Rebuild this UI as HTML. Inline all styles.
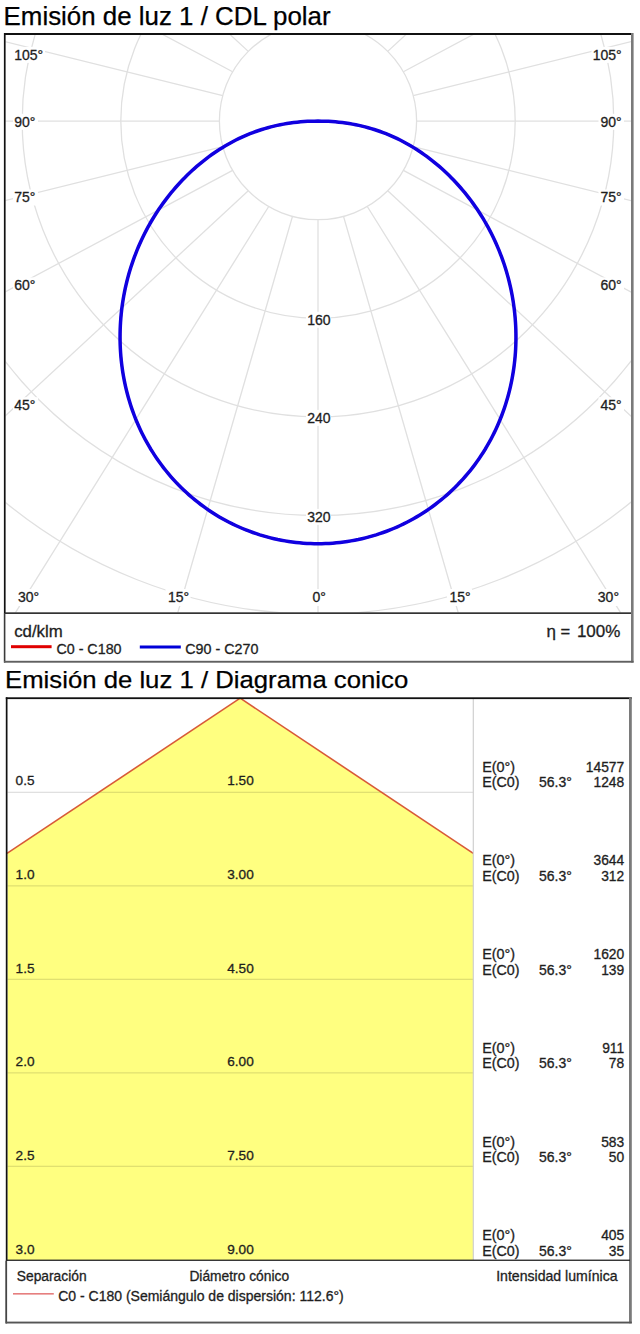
<!DOCTYPE html>
<html><head><meta charset="utf-8"><style>
html,body{margin:0;padding:0;background:#fff;width:640px;height:1334px;overflow:hidden}
svg{position:absolute;left:0;top:0;display:block}
</style></head><body>
<svg width="640" height="1334" viewBox="0 0 640 1334">
<clipPath id="c1"><rect x="5.5" y="35" width="625.5" height="577.5"/></clipPath>
<g clip-path="url(#c1)">
<circle cx="318.0" cy="121.1" r="98.60" fill="none" stroke="#e0e0e0" stroke-width="1.3"/>
<circle cx="318.0" cy="121.1" r="197.20" fill="none" stroke="#e0e0e0" stroke-width="1.3"/>
<circle cx="318.0" cy="121.1" r="295.80" fill="none" stroke="#e0e0e0" stroke-width="1.3"/>
<circle cx="318.0" cy="121.1" r="394.40" fill="none" stroke="#e0e0e0" stroke-width="1.3"/>
<circle cx="318.0" cy="121.1" r="493.00" fill="none" stroke="#e0e0e0" stroke-width="1.3"/>
<circle cx="318.0" cy="121.1" r="591.60" fill="none" stroke="#e0e0e0" stroke-width="1.3"/>
<circle cx="318.0" cy="121.1" r="690.20" fill="none" stroke="#e0e0e0" stroke-width="1.3"/>
<line x1="318.00" y1="219.70" x2="318.00" y2="1119.70" stroke="#e0e0e0" stroke-width="1.3"/>
<line x1="343.52" y1="216.34" x2="593.70" y2="1080.87" stroke="#e0e0e0" stroke-width="1.3"/>
<line x1="367.30" y1="206.49" x2="843.50" y2="970.19" stroke="#e0e0e0" stroke-width="1.3"/>
<line x1="387.72" y1="190.82" x2="1048.11" y2="802.29" stroke="#e0e0e0" stroke-width="1.3"/>
<line x1="403.39" y1="170.40" x2="1197.10" y2="594.70" stroke="#e0e0e0" stroke-width="1.3"/>
<line x1="413.24" y1="146.62" x2="1286.76" y2="363.34" stroke="#e0e0e0" stroke-width="1.3"/>
<line x1="416.60" y1="121.10" x2="1316.60" y2="121.10" stroke="#e0e0e0" stroke-width="1.3"/>
<line x1="413.24" y1="95.58" x2="1286.76" y2="-121.14" stroke="#e0e0e0" stroke-width="1.3"/>
<line x1="403.39" y1="71.80" x2="1197.10" y2="-352.50" stroke="#e0e0e0" stroke-width="1.3"/>
<line x1="387.72" y1="51.38" x2="1048.11" y2="-560.09" stroke="#e0e0e0" stroke-width="1.3"/>
<line x1="367.30" y1="35.71" x2="843.50" y2="-727.99" stroke="#e0e0e0" stroke-width="1.3"/>
<line x1="343.52" y1="25.86" x2="593.70" y2="-838.67" stroke="#e0e0e0" stroke-width="1.3"/>
<line x1="318.00" y1="22.50" x2="318.00" y2="-877.50" stroke="#e0e0e0" stroke-width="1.3"/>
<line x1="292.48" y1="25.86" x2="42.30" y2="-838.67" stroke="#e0e0e0" stroke-width="1.3"/>
<line x1="268.70" y1="35.71" x2="-207.50" y2="-727.99" stroke="#e0e0e0" stroke-width="1.3"/>
<line x1="248.28" y1="51.38" x2="-412.11" y2="-560.09" stroke="#e0e0e0" stroke-width="1.3"/>
<line x1="232.61" y1="71.80" x2="-561.10" y2="-352.50" stroke="#e0e0e0" stroke-width="1.3"/>
<line x1="222.76" y1="95.58" x2="-650.76" y2="-121.14" stroke="#e0e0e0" stroke-width="1.3"/>
<line x1="219.40" y1="121.10" x2="-680.60" y2="121.10" stroke="#e0e0e0" stroke-width="1.3"/>
<line x1="222.76" y1="146.62" x2="-650.76" y2="363.34" stroke="#e0e0e0" stroke-width="1.3"/>
<line x1="232.61" y1="170.40" x2="-561.10" y2="594.70" stroke="#e0e0e0" stroke-width="1.3"/>
<line x1="248.28" y1="190.82" x2="-412.11" y2="802.29" stroke="#e0e0e0" stroke-width="1.3"/>
<line x1="268.70" y1="206.49" x2="-207.50" y2="970.19" stroke="#e0e0e0" stroke-width="1.3"/>
<line x1="292.48" y1="216.34" x2="42.30" y2="1080.87" stroke="#e0e0e0" stroke-width="1.3"/>
</g>
<path d="M318.00,121.10 L314.52,121.13 L311.04,121.22 L307.56,121.37 L304.09,121.59 L300.62,121.86 L297.15,122.19 L293.69,122.59 L290.24,123.04 L286.80,123.56 L283.48,124.12 L280.27,124.73 L277.10,125.40 L273.96,126.12 L270.86,126.89 L267.79,127.71 L264.76,128.58 L261.75,129.51 L258.78,130.48 L255.83,131.50 L252.91,132.58 L250.01,133.70 L247.15,134.87 L244.30,136.09 L241.48,137.36 L238.68,138.68 L235.91,140.05 L233.15,141.47 L230.42,142.94 L227.71,144.45 L225.02,146.01 L222.35,147.63 L219.70,149.29 L217.07,151.00 L214.45,152.76 L211.86,154.56 L209.29,156.42 L206.74,158.33 L204.21,160.28 L201.70,162.28 L199.21,164.34 L196.74,166.44 L194.30,168.58 L191.88,170.78 L189.48,173.03 L187.10,175.32 L184.75,177.66 L182.43,180.05 L180.13,182.49 L177.85,184.97 L175.61,187.50 L173.40,190.07 L171.21,192.69 L169.06,195.36 L166.94,198.07 L164.86,200.82 L162.81,203.62 L160.79,206.46 L158.82,209.34 L156.88,212.26 L154.98,215.22 L153.13,218.22 L151.32,221.25 L149.55,224.33 L147.83,227.44 L146.15,230.58 L144.52,233.76 L142.93,236.98 L141.39,240.23 L139.90,243.51 L138.46,246.82 L137.06,250.16 L135.72,253.53 L134.43,256.94 L133.19,260.37 L132.00,263.83 L130.86,267.31 L129.78,270.82 L128.75,274.35 L127.77,277.91 L126.85,281.49 L125.99,285.09 L125.18,288.71 L124.43,292.35 L123.74,296.01 L123.10,299.69 L122.53,303.38 L122.01,307.09 L121.55,310.81 L121.15,314.54 L120.82,318.28 L120.54,322.04 L120.33,325.80 L120.17,329.57 L120.08,333.34 L120.05,337.12 L120.08,340.91 L120.18,344.69 L120.34,348.48 L120.56,352.27 L120.85,356.05 L121.20,359.84 L121.62,363.61 L122.10,367.39 L122.64,371.15 L123.25,374.91 L123.92,378.65 L124.66,382.39 L125.46,386.11 L126.33,389.81 L127.26,393.51 L128.26,397.18 L129.32,400.83 L130.44,404.47 L131.63,408.08 L132.88,411.67 L134.20,415.24 L135.58,418.78 L137.03,422.29 L138.53,425.77 L140.10,429.23 L141.74,432.65 L143.43,436.03 L145.18,439.39 L147.00,442.70 L148.88,445.98 L150.81,449.23 L152.81,452.43 L154.86,455.59 L156.97,458.72 L159.13,461.80 L161.35,464.83 L163.63,467.82 L165.96,470.77 L168.34,473.67 L170.78,476.52 L173.27,479.33 L175.81,482.08 L178.39,484.79 L181.03,487.44 L183.72,490.04 L186.45,492.59 L189.23,495.08 L192.05,497.52 L194.92,499.90 L197.83,502.23 L200.78,504.50 L203.78,506.71 L206.81,508.87 L209.88,510.96 L212.99,513.00 L216.14,514.97 L219.32,516.88 L222.54,518.73 L225.79,520.52 L229.07,522.24 L232.38,523.91 L235.72,525.50 L239.09,527.03 L242.49,528.50 L245.92,529.90 L249.37,531.24 L252.84,532.51 L256.33,533.71 L259.85,534.85 L263.39,535.91 L266.94,536.91 L270.52,537.85 L274.11,538.71 L277.71,539.51 L281.33,540.23 L284.96,540.89 L288.60,541.48 L292.26,542.00 L295.92,542.45 L299.59,542.83 L303.26,543.14 L306.94,543.39 L310.63,543.56 L314.31,543.66 L318.00,543.70 L321.69,543.66 L325.37,543.56 L329.06,543.39 L332.74,543.14 L336.41,542.83 L340.08,542.45 L343.74,542.00 L347.40,541.48 L351.04,540.89 L354.67,540.23 L358.29,539.51 L361.89,538.71 L365.48,537.85 L369.06,536.91 L372.61,535.91 L376.15,534.85 L379.67,533.71 L383.16,532.51 L386.63,531.24 L390.08,529.90 L393.51,528.50 L396.91,527.03 L400.28,525.50 L403.62,523.91 L406.93,522.24 L410.21,520.52 L413.46,518.73 L416.68,516.88 L419.86,514.97 L423.01,513.00 L426.12,510.96 L429.19,508.87 L432.22,506.71 L435.22,504.50 L438.17,502.23 L441.08,499.90 L443.95,497.52 L446.77,495.08 L449.55,492.59 L452.28,490.04 L454.97,487.44 L457.61,484.79 L460.19,482.08 L462.73,479.33 L465.22,476.52 L467.66,473.67 L470.04,470.77 L472.37,467.82 L474.65,464.83 L476.87,461.80 L479.03,458.72 L481.14,455.59 L483.19,452.43 L485.19,449.23 L487.12,445.98 L489.00,442.70 L490.82,439.39 L492.57,436.03 L494.26,432.65 L495.90,429.23 L497.47,425.77 L498.97,422.29 L500.42,418.78 L501.80,415.24 L503.12,411.67 L504.37,408.08 L505.56,404.47 L506.68,400.83 L507.74,397.18 L508.74,393.51 L509.67,389.81 L510.54,386.11 L511.34,382.39 L512.08,378.65 L512.75,374.91 L513.36,371.15 L513.90,367.39 L514.38,363.61 L514.80,359.84 L515.15,356.05 L515.44,352.27 L515.66,348.48 L515.82,344.69 L515.92,340.91 L515.95,337.12 L515.92,333.34 L515.83,329.57 L515.67,325.80 L515.46,322.04 L515.18,318.28 L514.85,314.54 L514.45,310.81 L513.99,307.09 L513.47,303.38 L512.90,299.69 L512.26,296.01 L511.57,292.35 L510.82,288.71 L510.01,285.09 L509.15,281.49 L508.23,277.91 L507.25,274.35 L506.22,270.82 L505.14,267.31 L504.00,263.83 L502.81,260.37 L501.57,256.94 L500.28,253.53 L498.94,250.16 L497.54,246.82 L496.10,243.51 L494.61,240.23 L493.07,236.98 L491.48,233.76 L489.85,230.58 L488.17,227.44 L486.45,224.33 L484.68,221.25 L482.87,218.22 L481.02,215.22 L479.12,212.26 L477.18,209.34 L475.21,206.46 L473.19,203.62 L471.14,200.82 L469.06,198.07 L466.94,195.36 L464.79,192.69 L462.60,190.07 L460.39,187.50 L458.15,184.97 L455.87,182.49 L453.57,180.05 L451.25,177.66 L448.90,175.32 L446.52,173.03 L444.12,170.78 L441.70,168.58 L439.26,166.44 L436.79,164.34 L434.30,162.28 L431.79,160.28 L429.26,158.33 L426.71,156.42 L424.14,154.56 L421.55,152.76 L418.93,151.00 L416.30,149.29 L413.65,147.63 L410.98,146.01 L408.29,144.45 L405.58,142.94 L402.85,141.47 L400.09,140.05 L397.32,138.68 L394.52,137.36 L391.70,136.09 L388.85,134.87 L385.99,133.70 L383.09,132.58 L380.17,131.50 L377.22,130.48 L374.25,129.51 L371.24,128.58 L368.21,127.71 L365.14,126.89 L362.04,126.12 L358.90,125.40 L355.73,124.73 L352.52,124.12 L349.20,123.56 L345.76,123.04 L342.31,122.59 L338.85,122.19 L335.38,121.86 L331.91,121.59 L328.44,121.37 L324.96,121.22 L321.48,121.13 L318.00,121.10" fill="none" stroke="#e00000" stroke-width="2.2"/>
<path d="M318.00,121.10 L314.52,121.13 L311.04,121.22 L307.56,121.37 L304.09,121.59 L300.62,121.86 L297.15,122.19 L293.69,122.59 L290.24,123.04 L286.80,123.56 L283.48,124.12 L280.27,124.73 L277.10,125.40 L273.96,126.12 L270.86,126.89 L267.79,127.71 L264.76,128.58 L261.75,129.51 L258.78,130.48 L255.83,131.50 L252.91,132.58 L250.01,133.70 L247.15,134.87 L244.30,136.09 L241.48,137.36 L238.68,138.68 L235.91,140.05 L233.15,141.47 L230.42,142.94 L227.71,144.45 L225.02,146.01 L222.35,147.63 L219.70,149.29 L217.07,151.00 L214.45,152.76 L211.86,154.56 L209.29,156.42 L206.74,158.33 L204.21,160.28 L201.70,162.28 L199.21,164.34 L196.74,166.44 L194.30,168.58 L191.88,170.78 L189.48,173.03 L187.10,175.32 L184.75,177.66 L182.43,180.05 L180.13,182.49 L177.85,184.97 L175.61,187.50 L173.40,190.07 L171.21,192.69 L169.06,195.36 L166.94,198.07 L164.86,200.82 L162.81,203.62 L160.79,206.46 L158.82,209.34 L156.88,212.26 L154.98,215.22 L153.13,218.22 L151.32,221.25 L149.55,224.33 L147.83,227.44 L146.15,230.58 L144.52,233.76 L142.93,236.98 L141.39,240.23 L139.90,243.51 L138.46,246.82 L137.06,250.16 L135.72,253.53 L134.43,256.94 L133.19,260.37 L132.00,263.83 L130.86,267.31 L129.78,270.82 L128.75,274.35 L127.77,277.91 L126.85,281.49 L125.99,285.09 L125.18,288.71 L124.43,292.35 L123.74,296.01 L123.10,299.69 L122.53,303.38 L122.01,307.09 L121.55,310.81 L121.15,314.54 L120.82,318.28 L120.54,322.04 L120.33,325.80 L120.17,329.57 L120.08,333.34 L120.05,337.12 L120.08,340.91 L120.18,344.69 L120.34,348.48 L120.56,352.27 L120.85,356.05 L121.20,359.84 L121.62,363.61 L122.10,367.39 L122.64,371.15 L123.25,374.91 L123.92,378.65 L124.66,382.39 L125.46,386.11 L126.33,389.81 L127.26,393.51 L128.26,397.18 L129.32,400.83 L130.44,404.47 L131.63,408.08 L132.88,411.67 L134.20,415.24 L135.58,418.78 L137.03,422.29 L138.53,425.77 L140.10,429.23 L141.74,432.65 L143.43,436.03 L145.18,439.39 L147.00,442.70 L148.88,445.98 L150.81,449.23 L152.81,452.43 L154.86,455.59 L156.97,458.72 L159.13,461.80 L161.35,464.83 L163.63,467.82 L165.96,470.77 L168.34,473.67 L170.78,476.52 L173.27,479.33 L175.81,482.08 L178.39,484.79 L181.03,487.44 L183.72,490.04 L186.45,492.59 L189.23,495.08 L192.05,497.52 L194.92,499.90 L197.83,502.23 L200.78,504.50 L203.78,506.71 L206.81,508.87 L209.88,510.96 L212.99,513.00 L216.14,514.97 L219.32,516.88 L222.54,518.73 L225.79,520.52 L229.07,522.24 L232.38,523.91 L235.72,525.50 L239.09,527.03 L242.49,528.50 L245.92,529.90 L249.37,531.24 L252.84,532.51 L256.33,533.71 L259.85,534.85 L263.39,535.91 L266.94,536.91 L270.52,537.85 L274.11,538.71 L277.71,539.51 L281.33,540.23 L284.96,540.89 L288.60,541.48 L292.26,542.00 L295.92,542.45 L299.59,542.83 L303.26,543.14 L306.94,543.39 L310.63,543.56 L314.31,543.66 L318.00,543.70 L321.69,543.66 L325.37,543.56 L329.06,543.39 L332.74,543.14 L336.41,542.83 L340.08,542.45 L343.74,542.00 L347.40,541.48 L351.04,540.89 L354.67,540.23 L358.29,539.51 L361.89,538.71 L365.48,537.85 L369.06,536.91 L372.61,535.91 L376.15,534.85 L379.67,533.71 L383.16,532.51 L386.63,531.24 L390.08,529.90 L393.51,528.50 L396.91,527.03 L400.28,525.50 L403.62,523.91 L406.93,522.24 L410.21,520.52 L413.46,518.73 L416.68,516.88 L419.86,514.97 L423.01,513.00 L426.12,510.96 L429.19,508.87 L432.22,506.71 L435.22,504.50 L438.17,502.23 L441.08,499.90 L443.95,497.52 L446.77,495.08 L449.55,492.59 L452.28,490.04 L454.97,487.44 L457.61,484.79 L460.19,482.08 L462.73,479.33 L465.22,476.52 L467.66,473.67 L470.04,470.77 L472.37,467.82 L474.65,464.83 L476.87,461.80 L479.03,458.72 L481.14,455.59 L483.19,452.43 L485.19,449.23 L487.12,445.98 L489.00,442.70 L490.82,439.39 L492.57,436.03 L494.26,432.65 L495.90,429.23 L497.47,425.77 L498.97,422.29 L500.42,418.78 L501.80,415.24 L503.12,411.67 L504.37,408.08 L505.56,404.47 L506.68,400.83 L507.74,397.18 L508.74,393.51 L509.67,389.81 L510.54,386.11 L511.34,382.39 L512.08,378.65 L512.75,374.91 L513.36,371.15 L513.90,367.39 L514.38,363.61 L514.80,359.84 L515.15,356.05 L515.44,352.27 L515.66,348.48 L515.82,344.69 L515.92,340.91 L515.95,337.12 L515.92,333.34 L515.83,329.57 L515.67,325.80 L515.46,322.04 L515.18,318.28 L514.85,314.54 L514.45,310.81 L513.99,307.09 L513.47,303.38 L512.90,299.69 L512.26,296.01 L511.57,292.35 L510.82,288.71 L510.01,285.09 L509.15,281.49 L508.23,277.91 L507.25,274.35 L506.22,270.82 L505.14,267.31 L504.00,263.83 L502.81,260.37 L501.57,256.94 L500.28,253.53 L498.94,250.16 L497.54,246.82 L496.10,243.51 L494.61,240.23 L493.07,236.98 L491.48,233.76 L489.85,230.58 L488.17,227.44 L486.45,224.33 L484.68,221.25 L482.87,218.22 L481.02,215.22 L479.12,212.26 L477.18,209.34 L475.21,206.46 L473.19,203.62 L471.14,200.82 L469.06,198.07 L466.94,195.36 L464.79,192.69 L462.60,190.07 L460.39,187.50 L458.15,184.97 L455.87,182.49 L453.57,180.05 L451.25,177.66 L448.90,175.32 L446.52,173.03 L444.12,170.78 L441.70,168.58 L439.26,166.44 L436.79,164.34 L434.30,162.28 L431.79,160.28 L429.26,158.33 L426.71,156.42 L424.14,154.56 L421.55,152.76 L418.93,151.00 L416.30,149.29 L413.65,147.63 L410.98,146.01 L408.29,144.45 L405.58,142.94 L402.85,141.47 L400.09,140.05 L397.32,138.68 L394.52,137.36 L391.70,136.09 L388.85,134.87 L385.99,133.70 L383.09,132.58 L380.17,131.50 L377.22,130.48 L374.25,129.51 L371.24,128.58 L368.21,127.71 L365.14,126.89 L362.04,126.12 L358.90,125.40 L355.73,124.73 L352.52,124.12 L349.20,123.56 L345.76,123.04 L342.31,122.59 L338.85,122.19 L335.38,121.86 L331.91,121.59 L328.44,121.37 L324.96,121.22 L321.48,121.13 L318.00,121.10" fill="none" stroke="#1000e0" stroke-width="3.5"/>
<rect x="13" y="46.9" width="32" height="16.0" fill="#fff"/>
<rect x="591.5" y="46.9" width="32.5" height="16.0" fill="#fff"/>
<rect x="13" y="113.8" width="25" height="16.000000000000014" fill="#fff"/>
<rect x="598.5" y="113.8" width="25.5" height="16.000000000000014" fill="#fff"/>
<rect x="13" y="189.5" width="25" height="16.0" fill="#fff"/>
<rect x="598.5" y="189.5" width="25.5" height="16.0" fill="#fff"/>
<rect x="13" y="277.4" width="25" height="16.0" fill="#fff"/>
<rect x="598.5" y="277.4" width="25.5" height="16.0" fill="#fff"/>
<rect x="13" y="397.2" width="25" height="16.0" fill="#fff"/>
<rect x="598.5" y="397.2" width="25.5" height="16.0" fill="#fff"/>
<text x="14.2" y="59.6" font-size="14" text-anchor="start" fill="#1e1e1e" stroke="#1e1e1e" stroke-width="0.3" font-family="'Liberation Sans', sans-serif">105°</text>
<text x="621.6" y="59.6" font-size="14" text-anchor="end" fill="#1e1e1e" stroke="#1e1e1e" stroke-width="0.3" font-family="'Liberation Sans', sans-serif">105°</text>
<text x="14.2" y="126.5" font-size="14" text-anchor="start" fill="#1e1e1e" stroke="#1e1e1e" stroke-width="0.3" font-family="'Liberation Sans', sans-serif">90°</text>
<text x="621.6" y="126.5" font-size="14" text-anchor="end" fill="#1e1e1e" stroke="#1e1e1e" stroke-width="0.3" font-family="'Liberation Sans', sans-serif">90°</text>
<text x="14.2" y="202.2" font-size="14" text-anchor="start" fill="#1e1e1e" stroke="#1e1e1e" stroke-width="0.3" font-family="'Liberation Sans', sans-serif">75°</text>
<text x="621.6" y="202.2" font-size="14" text-anchor="end" fill="#1e1e1e" stroke="#1e1e1e" stroke-width="0.3" font-family="'Liberation Sans', sans-serif">75°</text>
<text x="14.2" y="290.09999999999997" font-size="14" text-anchor="start" fill="#1e1e1e" stroke="#1e1e1e" stroke-width="0.3" font-family="'Liberation Sans', sans-serif">60°</text>
<text x="621.6" y="290.09999999999997" font-size="14" text-anchor="end" fill="#1e1e1e" stroke="#1e1e1e" stroke-width="0.3" font-family="'Liberation Sans', sans-serif">60°</text>
<text x="14.2" y="409.9" font-size="14" text-anchor="start" fill="#1e1e1e" stroke="#1e1e1e" stroke-width="0.3" font-family="'Liberation Sans', sans-serif">45°</text>
<text x="621.6" y="409.9" font-size="14" text-anchor="end" fill="#1e1e1e" stroke="#1e1e1e" stroke-width="0.3" font-family="'Liberation Sans', sans-serif">45°</text>
<rect x="15.5" y="589" width="25.0" height="17" fill="#fff"/>
<rect x="165.5" y="589" width="25.0" height="17" fill="#fff"/>
<rect x="309.6" y="589" width="18.0" height="17" fill="#fff"/>
<rect x="447.0" y="589" width="25.0" height="17" fill="#fff"/>
<rect x="595.3" y="589" width="25.0" height="17" fill="#fff"/>
<text x="28.6" y="602.4" font-size="14" text-anchor="middle" fill="#1e1e1e" stroke="#1e1e1e" stroke-width="0.3" font-family="'Liberation Sans', sans-serif">30°</text>
<text x="178.6" y="602.4" font-size="14" text-anchor="middle" fill="#1e1e1e" stroke="#1e1e1e" stroke-width="0.3" font-family="'Liberation Sans', sans-serif">15°</text>
<text x="319.20000000000005" y="602.4" font-size="14" text-anchor="middle" fill="#1e1e1e" stroke="#1e1e1e" stroke-width="0.3" font-family="'Liberation Sans', sans-serif">0°</text>
<text x="460.1" y="602.4" font-size="14" text-anchor="middle" fill="#1e1e1e" stroke="#1e1e1e" stroke-width="0.3" font-family="'Liberation Sans', sans-serif">15°</text>
<text x="608.4" y="602.4" font-size="14" text-anchor="middle" fill="#1e1e1e" stroke="#1e1e1e" stroke-width="0.3" font-family="'Liberation Sans', sans-serif">30°</text>
<rect x="306" y="311.8" width="25" height="16.0" fill="#fff"/>
<text x="318.9" y="324.8" font-size="14" text-anchor="middle" fill="#1e1e1e" stroke="#1e1e1e" stroke-width="0.3" font-family="'Liberation Sans', sans-serif">160</text>
<rect x="306" y="409.9" width="25" height="16.0" fill="#fff"/>
<text x="318.9" y="422.9" font-size="14" text-anchor="middle" fill="#1e1e1e" stroke="#1e1e1e" stroke-width="0.3" font-family="'Liberation Sans', sans-serif">240</text>
<rect x="306" y="508.9" width="25" height="16.0" fill="#fff"/>
<text x="318.9" y="521.9" font-size="14" text-anchor="middle" fill="#1e1e1e" stroke="#1e1e1e" stroke-width="0.3" font-family="'Liberation Sans', sans-serif">320</text>
<rect x="3.9" y="33" width="1.7" height="580" fill="#111"/>
<rect x="3.8" y="613" width="1.6" height="49.6" fill="#3a3a3a"/>
<rect x="4" y="33" width="629" height="2" fill="#111"/>
<rect x="631" y="33" width="2.6" height="629.5" fill="#7a7a7a"/>
<rect x="5" y="612.3" width="626" height="1.7" fill="#333"/>
<rect x="4" y="660.8" width="629.6" height="1.9" fill="#606060"/>
<text x="14.2" y="636.9" font-size="16.8" text-anchor="start" fill="#1e1e1e" stroke="#1e1e1e" stroke-width="0.3" font-family="'Liberation Sans', sans-serif">cd/klm</text>
<rect x="11" y="645.2" width="40.6" height="3" fill="#e00000"/>
<text x="56.4" y="654.0" font-size="14.3" text-anchor="start" fill="#1e1e1e" stroke="#1e1e1e" stroke-width="0.3" font-family="'Liberation Sans', sans-serif">C0 - C180</text>
<rect x="139.8" y="645.5" width="41" height="3" fill="#0000d8"/>
<text x="185.3" y="654.2" font-size="14.3" text-anchor="start" fill="#1e1e1e" stroke="#1e1e1e" stroke-width="0.3" font-family="'Liberation Sans', sans-serif">C90 - C270</text>
<text x="546.6" y="637.2" font-size="17" text-anchor="start" fill="#1e1e1e" stroke="#1e1e1e" stroke-width="0.3" font-family="'Liberation Sans', sans-serif">η</text>
<text x="560.6" y="637.2" font-size="16.5" text-anchor="start" fill="#1e1e1e" stroke="#1e1e1e" stroke-width="0.3" font-family="'Liberation Sans', sans-serif">=</text>
<text x="620.4" y="637.2" font-size="17" text-anchor="end" fill="#1e1e1e" stroke="#1e1e1e" stroke-width="0.3" font-family="'Liberation Sans', sans-serif">100%</text>
<text x="3.6" y="24.7" font-size="25" fill="#000" stroke="#000" stroke-width="0.25" font-family="'Liberation Sans', sans-serif" textLength="327" lengthAdjust="spacingAndGlyphs">Emisión de luz 1 / CDL polar</text>
<text x="5.0" y="688.2" font-size="24.5" fill="#000" stroke="#000" stroke-width="0.25" font-family="'Liberation Sans', sans-serif" textLength="403.2" lengthAdjust="spacingAndGlyphs">Emisión de luz 1 / Diagrama conico</text>
<polygon points="7.5,853.08 240.2,698.2 473.3,853.35 473.3,1260 7.5,1260" fill="#ffff80"/>
<rect x="7.5" y="791.7" width="465.8" height="1.3" fill="#000" fill-opacity="0.12"/>
<rect x="7.5" y="885.2" width="465.8" height="1.3" fill="#000" fill-opacity="0.12"/>
<rect x="7.5" y="978.7" width="465.8" height="1.3" fill="#000" fill-opacity="0.12"/>
<rect x="7.5" y="1072.2" width="465.8" height="1.3" fill="#000" fill-opacity="0.12"/>
<rect x="7.5" y="1165.7" width="465.8" height="1.3" fill="#000" fill-opacity="0.12"/>
<line x1="7" y1="853.42" x2="240.2" y2="698.2" stroke="#d85a38" stroke-width="1.6"/>
<line x1="240.2" y1="698.2" x2="473.3" y2="853.35" stroke="#d85a38" stroke-width="1.6"/>
<rect x="472.7" y="698.2" width="1.2" height="561.8" fill="#d0d0d0"/>
<text x="15.6" y="785.3" font-size="13.6" text-anchor="start" fill="#1e1e1e" stroke="#1e1e1e" stroke-width="0.3" font-family="'Liberation Sans', sans-serif">0.5</text>
<text x="240.5" y="785.3" font-size="13.6" text-anchor="middle" fill="#1e1e1e" stroke="#1e1e1e" stroke-width="0.3" font-family="'Liberation Sans', sans-serif">1.50</text>
<text x="482.2" y="771.8" font-size="14.4" text-anchor="start" fill="#1e1e1e" stroke="#1e1e1e" stroke-width="0.3" font-family="'Liberation Sans', sans-serif">E(0°)</text>
<text x="624.2" y="771.8" font-size="13.8" text-anchor="end" fill="#1e1e1e" stroke="#1e1e1e" stroke-width="0.3" font-family="'Liberation Sans', sans-serif">14577</text>
<text x="482.2" y="787.1999999999999" font-size="14.3" text-anchor="start" fill="#1e1e1e" stroke="#1e1e1e" stroke-width="0.3" font-family="'Liberation Sans', sans-serif">E(C0)</text>
<text x="539.0" y="787.1999999999999" font-size="14" text-anchor="start" fill="#1e1e1e" stroke="#1e1e1e" stroke-width="0.3" font-family="'Liberation Sans', sans-serif">56.3°</text>
<text x="624.2" y="787.1999999999999" font-size="13.8" text-anchor="end" fill="#1e1e1e" stroke="#1e1e1e" stroke-width="0.3" font-family="'Liberation Sans', sans-serif">1248</text>
<text x="15.6" y="878.98" font-size="13.6" text-anchor="start" fill="#1e1e1e" stroke="#1e1e1e" stroke-width="0.3" font-family="'Liberation Sans', sans-serif">1.0</text>
<text x="240.5" y="878.98" font-size="13.6" text-anchor="middle" fill="#1e1e1e" stroke="#1e1e1e" stroke-width="0.3" font-family="'Liberation Sans', sans-serif">3.00</text>
<text x="482.2" y="865.48" font-size="14.4" text-anchor="start" fill="#1e1e1e" stroke="#1e1e1e" stroke-width="0.3" font-family="'Liberation Sans', sans-serif">E(0°)</text>
<text x="624.2" y="865.48" font-size="13.8" text-anchor="end" fill="#1e1e1e" stroke="#1e1e1e" stroke-width="0.3" font-family="'Liberation Sans', sans-serif">3644</text>
<text x="482.2" y="880.88" font-size="14.3" text-anchor="start" fill="#1e1e1e" stroke="#1e1e1e" stroke-width="0.3" font-family="'Liberation Sans', sans-serif">E(C0)</text>
<text x="539.0" y="880.88" font-size="14" text-anchor="start" fill="#1e1e1e" stroke="#1e1e1e" stroke-width="0.3" font-family="'Liberation Sans', sans-serif">56.3°</text>
<text x="624.2" y="880.88" font-size="13.8" text-anchor="end" fill="#1e1e1e" stroke="#1e1e1e" stroke-width="0.3" font-family="'Liberation Sans', sans-serif">312</text>
<text x="15.6" y="972.66" font-size="13.6" text-anchor="start" fill="#1e1e1e" stroke="#1e1e1e" stroke-width="0.3" font-family="'Liberation Sans', sans-serif">1.5</text>
<text x="240.5" y="972.66" font-size="13.6" text-anchor="middle" fill="#1e1e1e" stroke="#1e1e1e" stroke-width="0.3" font-family="'Liberation Sans', sans-serif">4.50</text>
<text x="482.2" y="959.16" font-size="14.4" text-anchor="start" fill="#1e1e1e" stroke="#1e1e1e" stroke-width="0.3" font-family="'Liberation Sans', sans-serif">E(0°)</text>
<text x="624.2" y="959.16" font-size="13.8" text-anchor="end" fill="#1e1e1e" stroke="#1e1e1e" stroke-width="0.3" font-family="'Liberation Sans', sans-serif">1620</text>
<text x="482.2" y="974.56" font-size="14.3" text-anchor="start" fill="#1e1e1e" stroke="#1e1e1e" stroke-width="0.3" font-family="'Liberation Sans', sans-serif">E(C0)</text>
<text x="539.0" y="974.56" font-size="14" text-anchor="start" fill="#1e1e1e" stroke="#1e1e1e" stroke-width="0.3" font-family="'Liberation Sans', sans-serif">56.3°</text>
<text x="624.2" y="974.56" font-size="13.8" text-anchor="end" fill="#1e1e1e" stroke="#1e1e1e" stroke-width="0.3" font-family="'Liberation Sans', sans-serif">139</text>
<text x="15.6" y="1066.34" font-size="13.6" text-anchor="start" fill="#1e1e1e" stroke="#1e1e1e" stroke-width="0.3" font-family="'Liberation Sans', sans-serif">2.0</text>
<text x="240.5" y="1066.34" font-size="13.6" text-anchor="middle" fill="#1e1e1e" stroke="#1e1e1e" stroke-width="0.3" font-family="'Liberation Sans', sans-serif">6.00</text>
<text x="482.2" y="1052.84" font-size="14.4" text-anchor="start" fill="#1e1e1e" stroke="#1e1e1e" stroke-width="0.3" font-family="'Liberation Sans', sans-serif">E(0°)</text>
<text x="624.2" y="1052.84" font-size="13.8" text-anchor="end" fill="#1e1e1e" stroke="#1e1e1e" stroke-width="0.3" font-family="'Liberation Sans', sans-serif">911</text>
<text x="482.2" y="1068.24" font-size="14.3" text-anchor="start" fill="#1e1e1e" stroke="#1e1e1e" stroke-width="0.3" font-family="'Liberation Sans', sans-serif">E(C0)</text>
<text x="539.0" y="1068.24" font-size="14" text-anchor="start" fill="#1e1e1e" stroke="#1e1e1e" stroke-width="0.3" font-family="'Liberation Sans', sans-serif">56.3°</text>
<text x="624.2" y="1068.24" font-size="13.8" text-anchor="end" fill="#1e1e1e" stroke="#1e1e1e" stroke-width="0.3" font-family="'Liberation Sans', sans-serif">78</text>
<text x="15.6" y="1160.02" font-size="13.6" text-anchor="start" fill="#1e1e1e" stroke="#1e1e1e" stroke-width="0.3" font-family="'Liberation Sans', sans-serif">2.5</text>
<text x="240.5" y="1160.02" font-size="13.6" text-anchor="middle" fill="#1e1e1e" stroke="#1e1e1e" stroke-width="0.3" font-family="'Liberation Sans', sans-serif">7.50</text>
<text x="482.2" y="1146.52" font-size="14.4" text-anchor="start" fill="#1e1e1e" stroke="#1e1e1e" stroke-width="0.3" font-family="'Liberation Sans', sans-serif">E(0°)</text>
<text x="624.2" y="1146.52" font-size="13.8" text-anchor="end" fill="#1e1e1e" stroke="#1e1e1e" stroke-width="0.3" font-family="'Liberation Sans', sans-serif">583</text>
<text x="482.2" y="1161.92" font-size="14.3" text-anchor="start" fill="#1e1e1e" stroke="#1e1e1e" stroke-width="0.3" font-family="'Liberation Sans', sans-serif">E(C0)</text>
<text x="539.0" y="1161.92" font-size="14" text-anchor="start" fill="#1e1e1e" stroke="#1e1e1e" stroke-width="0.3" font-family="'Liberation Sans', sans-serif">56.3°</text>
<text x="624.2" y="1161.92" font-size="13.8" text-anchor="end" fill="#1e1e1e" stroke="#1e1e1e" stroke-width="0.3" font-family="'Liberation Sans', sans-serif">50</text>
<text x="15.6" y="1253.7" font-size="13.6" text-anchor="start" fill="#1e1e1e" stroke="#1e1e1e" stroke-width="0.3" font-family="'Liberation Sans', sans-serif">3.0</text>
<text x="240.5" y="1253.7" font-size="13.6" text-anchor="middle" fill="#1e1e1e" stroke="#1e1e1e" stroke-width="0.3" font-family="'Liberation Sans', sans-serif">9.00</text>
<text x="482.2" y="1240.2" font-size="14.4" text-anchor="start" fill="#1e1e1e" stroke="#1e1e1e" stroke-width="0.3" font-family="'Liberation Sans', sans-serif">E(0°)</text>
<text x="624.2" y="1240.2" font-size="13.8" text-anchor="end" fill="#1e1e1e" stroke="#1e1e1e" stroke-width="0.3" font-family="'Liberation Sans', sans-serif">405</text>
<text x="482.2" y="1255.6000000000001" font-size="14.3" text-anchor="start" fill="#1e1e1e" stroke="#1e1e1e" stroke-width="0.3" font-family="'Liberation Sans', sans-serif">E(C0)</text>
<text x="539.0" y="1255.6000000000001" font-size="14" text-anchor="start" fill="#1e1e1e" stroke="#1e1e1e" stroke-width="0.3" font-family="'Liberation Sans', sans-serif">56.3°</text>
<text x="624.2" y="1255.6000000000001" font-size="13.8" text-anchor="end" fill="#1e1e1e" stroke="#1e1e1e" stroke-width="0.3" font-family="'Liberation Sans', sans-serif">35</text>
<clipPath id="c2"><rect x="0" y="0" width="631.8" height="1334"/></clipPath>
<rect x="5.8" y="697.3" width="1.7" height="563.3" fill="#111"/>
<rect x="5.3" y="1260.6" width="1.8" height="62.9" fill="#454545"/>
<rect x="5.8" y="697.3" width="825" height="1.8" clip-path="url(#c2)" fill="#111"/>
<rect x="629" y="697.3" width="2.8" height="626" fill="#7a7a7a"/>
<rect x="6" y="1259.6" width="624" height="1.3" fill="#222"/>
<rect x="5.8" y="1321.6" width="826" height="1.9" fill="#555" clip-path="url(#c2)"/>
<text x="16.8" y="1281.0" font-size="13.8" text-anchor="start" fill="#1e1e1e" stroke="#1e1e1e" stroke-width="0.3" font-family="'Liberation Sans', sans-serif">Separación</text>
<text x="189.4" y="1280.6" font-size="13.8" text-anchor="start" fill="#1e1e1e" stroke="#1e1e1e" stroke-width="0.3" font-family="'Liberation Sans', sans-serif">Diámetro cónico</text>
<text x="617.6" y="1280.5" font-size="14.1" text-anchor="end" fill="#1e1e1e" stroke="#1e1e1e" stroke-width="0.3" font-family="'Liberation Sans', sans-serif">Intensidad lumínica</text>
<rect x="13" y="1293.2" width="40.8" height="1.3" fill="#e06060"/>
<text x="58.2" y="1301.0" font-size="14" text-anchor="start" fill="#1e1e1e" stroke="#1e1e1e" stroke-width="0.3" font-family="'Liberation Sans', sans-serif">C0 - C180 (Semiángulo de dispersión: 112.6°)</text>
</svg>
</body></html>
